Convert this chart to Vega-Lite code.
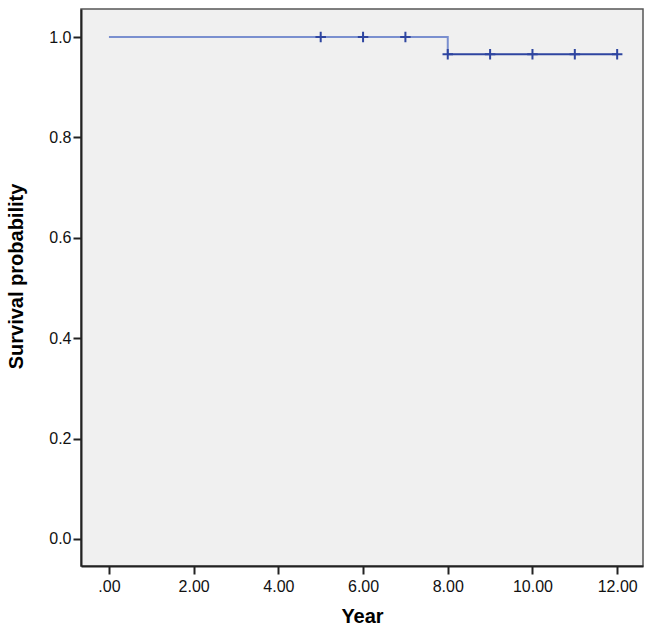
{
  "$schema": "https://vega.github.io/schema/vega-lite/v6.json",
  "autosize": {"type": "none"},
  "width": 562,
  "height": 557,
  "padding": {"left": 81, "top": 9, "right": 7, "bottom": 61},
  "background": "#ffffff",
  "config": {
    "view": {"fill": "#f0f0f0", "stroke": "#555555", "strokeWidth": 1.5},
    "axis": {
      "grid": false,
      "domainColor": "#222222",
      "domainWidth": 2,
      "tickColor": "#222222",
      "tickWidth": 2,
      "tickSize": 8,
      "labelFont": "Liberation Sans",
      "labelFontSize": 16,
      "labelColor": "#111111",
      "titleFont": "Liberation Sans",
      "titleFontSize": 20,
      "titleFontWeight": "bold",
      "titleColor": "#000000"
    }
  },
  "datasets": {
    "curve": [
      {"year": 0, "surv": 1.0, "seg": "a"},
      {"year": 8, "surv": 1.0, "seg": "a"},
      {"year": 8, "surv": 0.966, "seg": "a"},
      {"year": 8, "surv": 0.966, "seg": "b"},
      {"year": 12, "surv": 0.966, "seg": "b"}
    ],
    "censor": [
      {"year": 5, "surv": 1.0},
      {"year": 6, "surv": 1.0},
      {"year": 7, "surv": 1.0},
      {"year": 8, "surv": 0.966},
      {"year": 9, "surv": 0.966},
      {"year": 10, "surv": 0.966},
      {"year": 11, "surv": 0.966},
      {"year": 12, "surv": 0.966}
    ]
  },
  "layer": [
    {
      "data": {"name": "curve"},
      "mark": {"type": "line", "strokeWidth": 2},
      "encoding": {
        "x": {
          "field": "year", "type": "quantitative",
          "scale": {"domain": [-0.66, 12.61], "nice": false, "zero": false},
          "axis": {
            "values": [0, 2, 4, 6, 8, 10, 12],
            "labelExpr": "datum.value == 0 ? '.00' : format(datum.value, '.2f')",
            "title": "Year",
            "labelPadding": 4,
            "titlePadding": 12
          }
        },
        "y": {
          "field": "surv", "type": "quantitative",
          "scale": {"domain": [-0.054, 1.056], "nice": false, "zero": false},
          "axis": {
            "values": [0, 0.2, 0.4, 0.6, 0.8, 1.0],
            "format": ".1f",
            "title": "Survival probability",
            "labelPadding": 2,
            "titlePadding": 22,
            "titleY": 267
          }
        },
        "detail": {"field": "seg"},
        "color": {
          "field": "seg", "type": "nominal",
          "scale": {"domain": ["a", "b"], "range": ["#7a8fcf", "#2e45a0"]},
          "legend": null
        }
      }
    },
    {
      "data": {"name": "censor"},
      "mark": {
        "type": "point",
        "shape": "M-1,0H1M0,-1V1",
        "filled": false,
        "size": 110,
        "strokeWidth": 2,
        "color": "#2e45a0",
        "opacity": 1
      },
      "encoding": {
        "x": {"field": "year", "type": "quantitative"},
        "y": {"field": "surv", "type": "quantitative"}
      }
    }
  ]
}
